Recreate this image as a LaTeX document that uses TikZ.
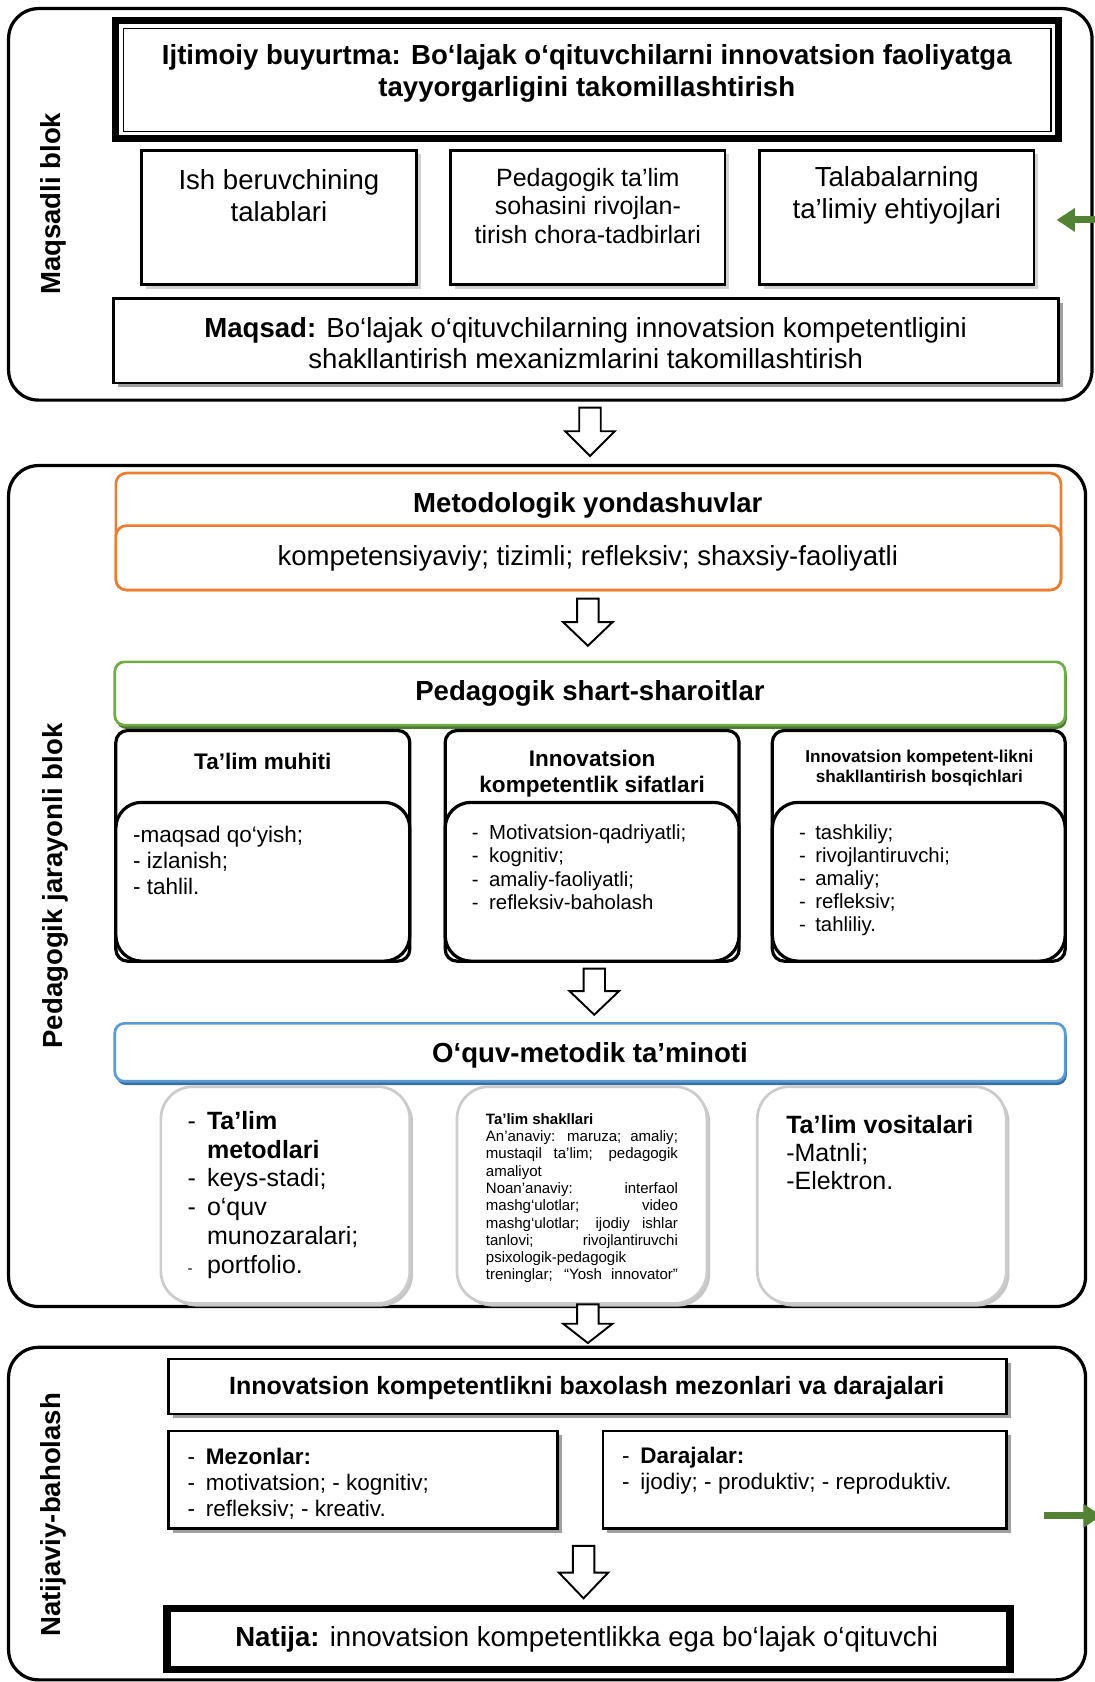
\documentclass[tikz,border=0pt]{standalone}
\usepackage{fontspec}
\setmainfont{Liberation Sans}
\usetikzlibrary{shadows,arrows.meta}
\definecolor{orng}{HTML}{ED7D31}
\definecolor{grn}{HTML}{70AD47}
\definecolor{grnd}{HTML}{4F7B32}
\definecolor{blu}{HTML}{5B9BD5}
\definecolor{blud}{HTML}{3A6E9E}
\definecolor{arrg}{HTML}{548235}
\definecolor{tanc}{HTML}{C4B995}
\newcommand\fs[2]{\fontsize{#1}{#2}\selectfont}
\begin{document}
\begin{tikzpicture}[x=1pt,y=-1pt,
  every node/.style={inner sep=0pt,outer sep=0pt},
  bx/.style={draw,fill=white,anchor=north west},
  blk/.style={bx,line width=3,rounded corners=28},
  plain/.style={bx,line width=2.5},
  shl/.style={drop shadow={shadow xshift=4pt,shadow yshift=-4pt,fill=gray!35,opacity=1}},
  shd/.style={drop shadow={shadow xshift=4pt,shadow yshift=-4pt,fill=gray!75,opacity=1}},
  card/.style={bx,line width=3,rounded corners=11},
  cardin/.style={bx,line width=3,rounded corners=24},
  soft/.style={bx,draw=gray!40,line width=2.5,rounded corners=30,
    drop shadow={shadow xshift=3pt,shadow yshift=-3pt,fill=gray!45,opacity=1}},
  harrow/.style={draw,fill=white,line width=1.8,line join=miter},
  garrow/.style={draw=arrg,line width=6.5,-{Triangle[width=21,length=17]},arrg},
  lbl/.style={rotate=90,font=\bfseries\fs{25.7}{30}},
  tx/.style={align=center,font=\fs{25.7}{30},yshift=-2.5pt},
  lst/.style={anchor=west,align=left,yshift=-2pt},
]
\newcommand\hdown[4]{\draw[harrow] (#1-10,#2) -- (#1+10,#2) -- (#1+10,#3-#4) -- (#1+23,#3-#4) -- (#1,#3) -- (#1-23,#3-#4) -- (#1-10,#3-#4) -- cycle;}
\fill[white] (0,0) rectangle (1020,1568);
\useasboundingbox (0,0) rectangle (1020,1568);

%% ---------- Block 1
\node[blk,minimum width=1010,minimum height=365] (blk1) at (8,8) {};
\node[lbl] (lbl1) at (50,190) {Maqsadli blok};
\node[bx,line width=6.5,minimum width=879,minimum height=110] (ijt) at (108,19.5) {};
\node[bx,line width=1.5,minimum width=865,minimum height=96] (ijtin) at (115,26.5) {};
\node[tx,font=\bfseries\fs{25.7}{30}] (ijtt) at (547,66) {Ijtimoiy buyurtma: Bo‘lajak o‘qituvchilarni innovatsion faoliyatga\\tayyorgarligini takomillashtirish};

\node[plain,shl,minimum width=256,minimum height=125] (b1) at (132,140) {};
\node[plain,shl,minimum width=256,minimum height=125] (b2) at (420,140) {};
\node[plain,shl,minimum width=256,minimum height=125] (b3) at (708,140) {};
\node[tx] (b1t) at (260,180) {Ish beruvchining\\talablari};
\node[tx,font=\fs{23.3}{26.5}] (b2t) at (548,189.5) {Pedagogik ta’lim\\sohasini rivojlan-\\tirish chora-tadbirlari};
\node[tx] (b3t) at (836,180) {Talabalarning\\ta’limiy ehtiyojlari};

\node[plain,shd,minimum width=881,minimum height=79] (maq) at (106,278) {};
\node[tx,font=\fs{25.7}{29}] (maqt) at (546,317.5) {\textbf{Maqsad:} Bo‘lajak o‘qituvchilarning innovatsion kompetentligini\\shakllantirish mexanizmlarini takomillashtirish};

\coordinate (g1s) at (1024,205);
\coordinate (g1e) at (985,205);
\draw[garrow] (g1s) -- (g1e);

\hdown{550}{380}{425}{23}

%% ---------- Block 2
\node[blk,minimum width=1004,minimum height=784] (blk2) at (8,434) {};
\node[lbl] (lbl2) at (52,826) {Pedagogik jarayonli blok};

\node[bx,draw=orng,line width=2.5,rounded corners=10,minimum width=881,minimum height=109] (met) at (108,441) {};
\node[bx,draw=orng,line width=2.5,rounded corners=10,minimum width=881,minimum height=60] (metin) at (108,490) {};
\node[tx,font=\bfseries\fs{25.7}{30}] (mett) at (548,469) {Metodologik yondashuvlar};
\node[tx] (metint) at (548,518) {kompetensiyaviy; tizimli; refleksiv; shaxsiy-faoliyatli};

\hdown{548}{558}{602}{22}

\node[bx,draw=grn,line width=2.5,rounded corners=9,minimum width=886,minimum height=59,
  drop shadow={shadow xshift=1.5pt,shadow yshift=-3.5pt,fill=grnd,opacity=1}] (psh) at (107,617) {};
\node[tx,font=\bfseries\fs{25.7}{30}] (psht) at (550,644) {Pedagogik shart-sharoitlar};

\node[card,minimum width=274,minimum height=215] (c1) at (108,681) {};
\node[cardin,minimum width=274,minimum height=148] (c1in) at (108,748) {};
\node[card,minimum width=274,minimum height=215] (c2) at (415,681) {};
\node[cardin,minimum width=274,minimum height=148] (c2in) at (415,748) {};
\node[card,minimum width=273,minimum height=215] (c3) at (720,681) {};
\node[cardin,minimum width=273,minimum height=148] (c3in) at (720,748) {};

\node[tx,font=\bfseries\fs{21}{24}] (c1t) at (245,707) {Ta’lim muhiti};
\node[tx,font=\bfseries\fs{21}{24}] (c2t) at (552,719) {Innovatsion\\kompetentlik sifatlari};
\node[tx,font=\bfseries\fs{16}{19}] (c3t) at (857,713.5) {Innovatsion kompetent-likni\\shakllantirish bosqichlari};

\node[lst,font=\fs{21}{24.5}] (c1l) at (124,800) {-maqsad qo‘yish;\\- izlanish;\\- tahlil.};
\node[lst,font=\fs{19}{21.7}] (c2l) at (440,806.5) {\makebox[16pt][l]{-}Motivatsion-qadriyatli;\\\makebox[16pt][l]{-}kognitiv;\\\makebox[16pt][l]{-}amaliy-faoliyatli;\\\makebox[16pt][l]{-}refleksiv-baholash};
\node[lst,font=\fs{19}{21.25}] (c3l) at (745,818.5) {\makebox[15pt][l]{-}tashkiliy;\\\makebox[15pt][l]{-}rivojlantiruvchi;\\\makebox[15pt][l]{-}amaliy;\\\makebox[15pt][l]{-}refleksiv;\\\makebox[15pt][l]{-}tahliliy.};

\hdown{554}{903}{946}{22}

\node[bx,draw=blu,line width=2.5,rounded corners=9,minimum width=886,minimum height=54,
  drop shadow={shadow xshift=1.5pt,shadow yshift=-3.5pt,fill=blud,opacity=1}] (qm) at (107,954) {};
\node[tx,font=\bfseries\fs{25.7}{30}] (qmt) at (550,981) {O‘quv-metodik ta’minoti};

\node[soft,minimum width=232,minimum height=202] (sA) at (150,1013) {};
\node[soft,minimum width=233,minimum height=202] (sB) at (426,1013) {};
\node[soft,minimum width=232,minimum height=202] (sC) at (706,1013) {};

\node[lst,font=\fs{23.3}{27}] (sAt) at (175,1112) {\makebox[18pt][l]{-}\textbf{Ta’lim}\\\hspace*{18pt}\textbf{metodlari}\\\makebox[18pt][l]{-}keys-stadi;\\\makebox[18pt][l]{-}o‘quv\\\hspace*{18pt}munozaralari;\\\makebox[18pt][l]{\fs{14}{16}-}portfolio.};
\node[lst,font=\fs{14}{16.1}] (sBt) at (453,1115) {\textbf{Ta’lim shakllari}\\
\makebox[179pt][s]{An’anaviy: maruza; amaliy;}\\
\makebox[179pt][s]{mustaqil ta’lim; pedagogik}\\
amaliyot\\
\makebox[179pt][s]{Noan’anaviy: interfaol}\\
\makebox[179pt][s]{mashg‘ulotlar; video}\\
\makebox[179pt][s]{mashg‘ulotlar; ijodiy ishlar}\\
\makebox[179pt][s]{tanlovi; rivojlantiruvchi}\\
psixologik-pedagogik\\
\makebox[179pt][s]{treninglar; “Yosh innovator”}};
\node[lst,font=\fs{23.3}{26.5}] (sCt) at (733,1072.5) {\textbf{Ta’lim vositalari}\\-Matnli;\\-Elektron.};

\hdown{548}{1216}{1252}{18}

%% ---------- Block 3
\node[blk,minimum width=1004,minimum height=310] (blk3) at (8,1256) {};
\node[lbl] (lbl3) at (50,1412) {Natijaviy-baholash};

\node[plain,shd,minimum width=781,minimum height=51] (hdr) at (157,1267) {};
\node[tx,font=\bfseries\fs{23.3}{27}] (hdrt) at (547,1291) {Innovatsion kompetentlikni baxolash mezonlari va darajalari};

\node[plain,shd,minimum width=363,minimum height=91] (mez) at (157,1334) {};
\node[plain,shd,minimum width=376,minimum height=91] (dar) at (562,1334) {};
\node[lst,font=\fs{21}{24}] (mezt) at (175,1381) {\makebox[17pt][l]{-}\textbf{Mezonlar:}\\\makebox[17pt][l]{-}motivatsion; - kognitiv;\\\makebox[17pt][l]{-}refleksiv; - kreativ.};
\node[lst,font=\fs{21}{24}] (dart) at (580,1369) {\makebox[17pt][l]{-}\textbf{Darajalar:}\\\makebox[17pt][l]{-}ijodiy; - produktiv; - reproduktiv.};

\coordinate (g2s) at (973,1413);
\coordinate (g2e) at (1027,1413);
\draw[garrow] (g2s) -- (g2e);

\hdown{544}{1441}{1490}{24}

\node[bx,line width=7,minimum width=786,minimum height=57,
  drop shadow={shadow xshift=3pt,shadow yshift=-3pt,fill=tanc,opacity=1}] (nat) at (155.5,1499.5) {};
\node[tx] (natt) at (547,1526) {\textbf{Natija:} innovatsion kompetentlikka ega bo‘lajak o‘qituvchi};
\end{tikzpicture}
\end{document}
